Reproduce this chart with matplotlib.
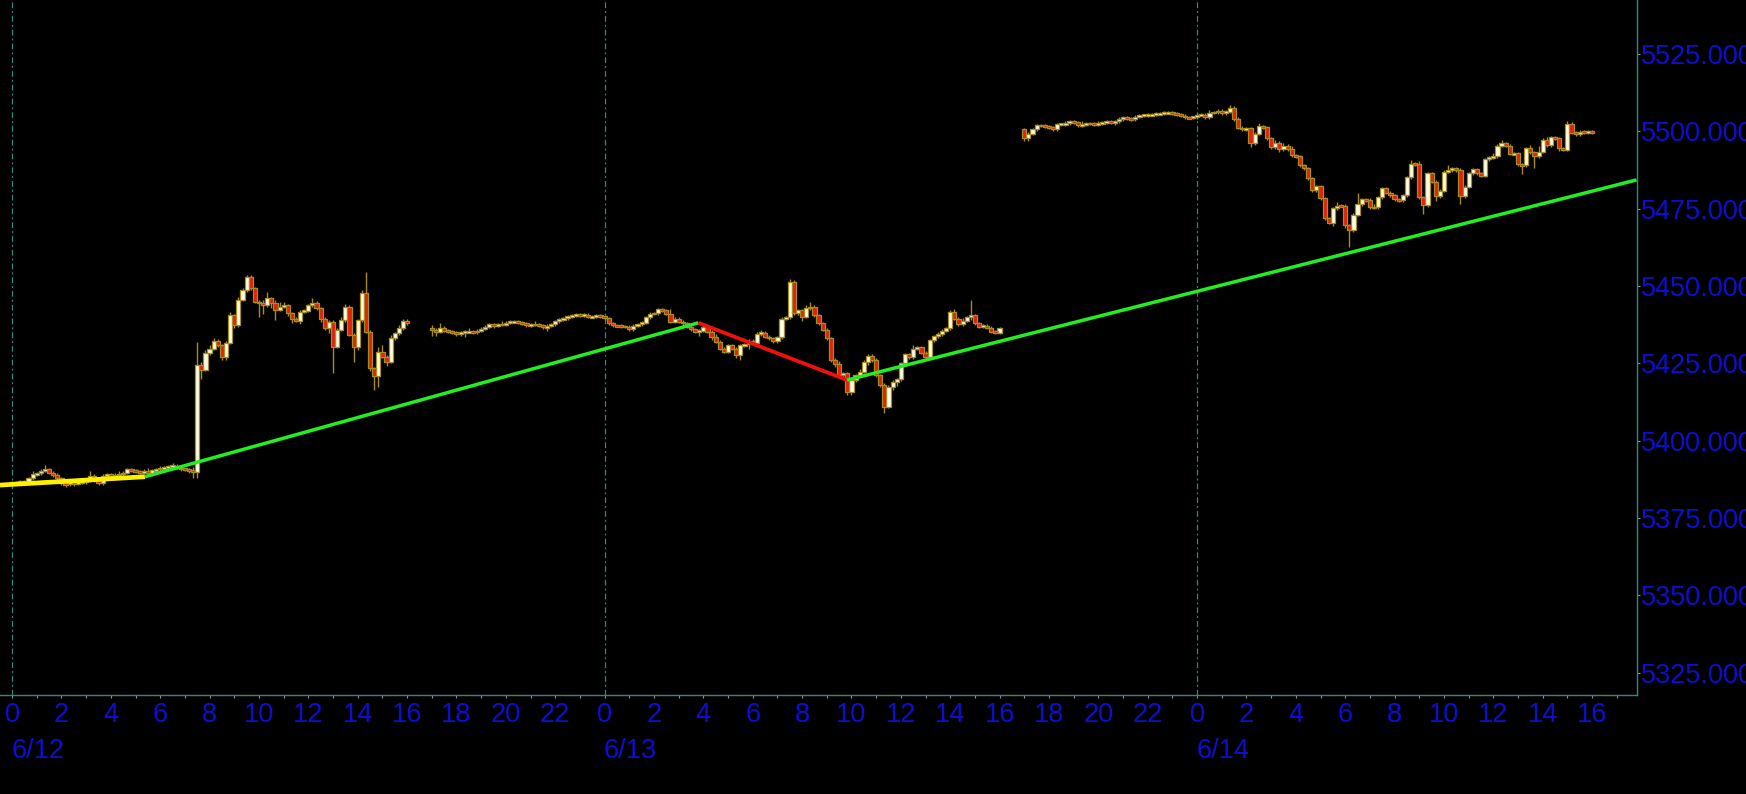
import numpy as np
import matplotlib
matplotlib.use("Agg")
import matplotlib.pyplot as plt
from matplotlib.patches import Rectangle
from matplotlib.collections import PatchCollection, LineCollection
import matplotlib.transforms as mtransforms

# ---------------- data (10-minute candles, hours since 6/12 00:00) ----------------
s1_start = 0.0
s1_open0 = 5386.2
s1_close = [
    # 0:00 - 7:20
    5386.4, 5386.5, 5386.7, 5386.9, 5387.8, 5389.1,
    5389.4, 5390.3, 5390.7, 5389.6, 5388.9, 5387.8,
    5386.2, 5386.0, 5386.4, 5386.2, 5386.6, 5386.6,
    5387.0, 5388.6, 5387.8, 5386.2, 5388.6, 5389.2,
    5388.6, 5388.9, 5389.2, 5389.6, 5390.7, 5390.5,
    5390.0, 5389.6, 5390.3, 5389.6, 5390.5, 5390.8,
    5391.2, 5391.4, 5391.6, 5391.9, 5391.2, 5390.8,
    5390.7, 5390.5, 5389.8,
    # 7:30 - 16:00
    5424.4, 5423.0, 5428.2, 5429.8, 5432.3, 5430.9, 5427.1, 5431.7, 5440.6, 5437.4,
    5445.5, 5448.7, 5453.0, 5449.2, 5444.9, 5444.4, 5443.8, 5446.0, 5444.4, 5442.4,
    5443.3, 5443.8, 5441.2, 5439.5, 5438.8, 5441.7, 5442.0, 5443.8, 5444.6, 5442.8,
    5439.5, 5436.3, 5438.5, 5430.4, 5435.8, 5439.0, 5443.3, 5434.2, 5430.4, 5439.0,
    5447.6, 5435.2, 5423.4, 5420.9, 5428.8, 5427.1, 5425.5, 5433.1, 5434.7, 5436.3,
    5438.8, 5437.9,
]
s1_up = ("111112" "113111" "111121" "231111" "112111" "111211" "111211" "112f22"
         "221112" "121111" "124123" "211111" "131111" "112211" "12e113" "412121" "1")
s1_dn = ("111111" "111112" "121211" "112111" "111111" "111121" "111111" "124461"
         "111221" "211111" "961371" "123121" "111213" "h1111a" "211297" "131111" "1")

s2_start = 17.0
s2_open0 = 5436.3
s2_close = [
    # 6/12 17:00 - 23:50
    5435.8, 5435.2, 5436.5, 5435.6, 5435.2, 5434.9, 5434.5, 5435.0, 5435.2, 5435.3,
    5435.1, 5435.5, 5436.2, 5436.8, 5437.7, 5437.3, 5437.5, 5437.6, 5438.1, 5438.4,
    5438.6, 5438.2, 5437.9, 5437.3, 5437.6, 5437.5, 5437.3, 5436.6, 5437.1, 5437.7,
    5438.6, 5439.2, 5439.6, 5440.1, 5440.5, 5440.7, 5440.6, 5440.7, 5440.1, 5440.1,
    5440.5, 5440.1,
    # 6/13 0:00 - 3:50
    5439.6, 5437.9, 5437.3, 5437.1, 5437.0, 5436.8, 5436.0, 5437.1, 5437.7, 5438.2,
    5439.9, 5441.0, 5441.2, 5442.5, 5442.2, 5441.0, 5438.5, 5439.5, 5438.5, 5437.9,
    5436.8, 5436.0, 5435.2, 5435.5,
    # 6/13 4:00 - 16:00
    5436.8, 5435.2, 5433.6, 5432.0, 5429.8, 5428.8,
    5430.9, 5429.8, 5427.7, 5430.9, 5431.2, 5432.3,
    5431.7, 5434.5, 5434.9, 5433.6, 5433.1, 5432.2,
    5433.4, 5439.5, 5439.9, 5451.4, 5441.2, 5442.2,
    5440.1, 5442.8, 5443.3, 5440.6, 5437.9, 5435.8,
    5433.1, 5426.1, 5424.8, 5421.2, 5421.8, 5415.8,
    5419.6, 5421.2, 5422.3, 5425.5, 5427.4, 5426.1,
    5421.2, 5418.0, 5411.0, 5417.4, 5419.1, 5419.8,
    5425.0, 5428.0, 5427.0, 5429.8, 5430.2, 5428.5,
    5427.0, 5432.5, 5433.8, 5434.5, 5435.6, 5436.3,
    5441.7, 5439.5, 5437.7, 5438.8, 5439.9, 5440.6,
    5437.9, 5436.8, 5437.1, 5436.5, 5435.2, 5434.9,
    5436.3,
]
s2_up = ("213111" "111211" "111112" "111111" "121111" "111111" "111111"
         "111111" "111111" "111131" "111111"
         "111211" "111111" "112111" "111211" "123111" "111211" "112111" "111111"
         "111211" "111111" "12121a" "111111" "1")
s2_dn = ("431111" "113111" "111211" "111111" "111121" "111111" "111111"
         "111111" "111111" "111111" "121113"
         "112111" "112313" "111111" "111111" "311111" "112122" "211121" "114123"
         "111111" "111111" "111112" "111111" "1")

s3_start = 41.0
s3_open0 = 5500.6
s3_close = [
    # 6/13 17:00 - 23:50
    5497.8, 5499.3, 5500.6, 5502.0, 5501.8, 5501.5, 5501.3, 5500.6, 5502.3, 5502.3,
    5502.7, 5503.1, 5502.9, 5502.0, 5502.3, 5502.6, 5502.5, 5502.3, 5502.7, 5502.9,
    5503.1, 5502.9, 5503.3, 5504.0, 5504.4, 5504.2, 5504.0, 5504.7, 5505.1, 5505.2,
    5505.3, 5505.5, 5505.7, 5505.7, 5506.0, 5506.1, 5505.8, 5505.5, 5505.1, 5504.5,
    5504.4, 5504.6,
    # 6/14 0:00 - 2:00
    5505.3, 5505.3, 5504.6, 5506.0, 5506.2, 5506.6, 5505.9, 5506.4, 5507.6, 5504.0,
    5501.2, 5500.6, 5501.0,
    # 6/14 2:10 - 16:00
    5496.1, 5499.3, 5501.7, 5501.3, 5497.7, 5494.8, 5496.3, 5494.2, 5495.3, 5494.2,
    5492.3, 5492.0, 5489.1, 5488.0, 5484.8, 5481.0, 5482.3, 5478.3, 5471.9, 5470.5,
    5475.1, 5476.0, 5475.9, 5469.7, 5468.1, 5473.0, 5476.5, 5478.0, 5477.8, 5475.4,
    5475.4, 5478.7, 5481.6, 5480.2, 5479.4, 5478.0, 5477.8, 5479.4, 5485.1, 5489.6,
    5489.4, 5478.7, 5476.2, 5486.4, 5483.7, 5479.1, 5480.8, 5487.0, 5487.5, 5487.9,
    5487.5, 5479.1, 5482.1, 5486.4, 5487.8, 5486.4, 5485.6, 5491.0, 5491.5, 5492.0,
    5495.3, 5496.1, 5495.3, 5492.7, 5492.9, 5489.4, 5489.1, 5494.5, 5493.3, 5492.0,
    5493.4, 5497.2, 5495.6, 5498.1, 5497.7, 5494.5, 5494.0, 5502.4, 5499.6, 5499.1,
    5499.9, 5499.8, 5499.9, 5499.7,
]
s3_up = ("111111" "111111" "112111" "111111" "111111" "111111" "111111"
         "111211" "112111" "111211" "121212" "111111" "111121" "111711" "121111"
         "111121" "211111" "131111" "111111" "212111" "111214" "121111" "211111" "1")
s3_dn = ("221111" "111111" "111111" "111121" "111111" "111111" "111111"
         "111111" "111111" "121111" "112111" "111111" "111211" "2b1111" "111111"
         "111111" "161131" "111151" "111111" "111111" "161181" "111121" "111111" "1")

# trend lines (hours, price)
trend_yellow_x = [-0.49, 5.38]
trend_yellow_y = [5385.65, 5388.35]
trend_green1_x = [5.38, 27.8]
trend_green1_y = [5388.35, 5438.1]
trend_red_x = [27.8, 33.82]
trend_red_y = [5438.1, 5419.6]
trend_green2_x = [33.82, 65.8]
trend_green2_y = [5419.6, 5484.3]

day_starts = [0, 24, 48]
day_labels = ["6/12", "6/13", "6/14"]
y_ticks = [5325, 5350, 5375, 5400, 5425, 5450, 5475, 5500, 5525]
x_major = list(range(0, 65, 2))

# ---------------- styling ----------------
BLUE = "#0E0ED0"
TEAL = "#2E8B84"
UP_FILL = "#FFFFE6"
DN_FILL = "#E2200C"
EDGE = "#A68C22"
FS = 19.5
plt.rcParams["font.family"] = ["Liberation Sans", "DejaVu Sans"]

fig = plt.figure(figsize=(17.46, 7.94), dpi=100, facecolor="black")
ax = fig.add_axes([0.0, 0.1253, 0.9373, 0.8747])
ax.set_facecolor("black")

def wick_vals(s):
    return np.array([int(ch, 36) * 0.5 for ch in s])

W = 0.17
MINH = 0.6
rects_up, rects_dn, wicks = [], [], []
for start, o0, closes, ups, dns in [
    (s1_start, s1_open0, s1_close, s1_up, s1_dn),
    (s2_start, s2_open0, s2_close, s2_up, s2_dn),
    (s3_start, s3_open0, s3_close, s3_up, s3_dn),
]:
    c = np.array(closes, dtype=float)
    o = np.concatenate([[o0], c[:-1]])
    n = len(c)
    t = start + np.arange(n) / 6.0
    hi = np.maximum(o, c) + wick_vals(ups)[:n]
    lo = np.minimum(o, c) - wick_vals(dns)[:n]
    for i in range(n):
        wicks.append([(t[i], lo[i]), (t[i], hi[i])])
        h = max(abs(c[i] - o[i]), MINH)
        mid = (o[i] + c[i]) / 2.0
        r = Rectangle((t[i] - W / 2, mid - h / 2), W, h)
        (rects_up if c[i] >= o[i] else rects_dn).append(r)

ax.add_collection(LineCollection(wicks, colors=EDGE, linewidths=1.0, zorder=2))
ax.add_collection(PatchCollection(rects_up, facecolor=UP_FILL, edgecolor=EDGE,
                                  linewidth=0.9, zorder=3))
ax.add_collection(PatchCollection(rects_dn, facecolor=DN_FILL, edgecolor=EDGE,
                                  linewidth=0.9, zorder=3))

ax.plot(trend_yellow_x, trend_yellow_y, color="#FFF000", lw=3.4, zorder=4,
        solid_capstyle="butt")
ax.plot(trend_green1_x, trend_green1_y, color="#22EE22", lw=2.5, zorder=4,
        solid_capstyle="butt")
ax.plot(trend_red_x, trend_red_y, color="#F01010", lw=2.7, zorder=4,
        solid_capstyle="butt")
ax.plot(trend_green2_x, trend_green2_y, color="#22EE22", lw=2.5, zorder=4,
        solid_capstyle="butt")

for d in day_starts:
    ax.axvline(d, color=TEAL, lw=0.9, ls=(0, (4.5, 2.5, 1.5, 2.5)), zorder=1)

ax.set_xlim(-0.49, 65.8)
ax.set_ylim(5317.95, 5542.46)

ax.yaxis.tick_right()
ax.set_yticks(y_ticks)
ax.set_yticklabels([f"{v:.3f}" for v in y_ticks])
ax.set_xticks(x_major)
ax.set_xticklabels([str(h % 24) for h in x_major])
ax.set_xticks(list(range(0, 66)), minor=True)

ax.tick_params(axis="y", which="both", colors="#7A9A9A", labelcolor=BLUE,
               length=2.5, width=0.8, pad=0.8, labelsize=FS)
ax.tick_params(axis="x", which="both", colors="#7A9A9A", labelcolor=BLUE,
               length=2.5, width=0.8, pad=3.0, labelsize=FS)

for side in ["top", "left"]:
    ax.spines[side].set_visible(False)
for side in ["right", "bottom"]:
    ax.spines[side].set_color(TEAL)
    ax.spines[side].set_linewidth(1.0)

trans = mtransforms.blended_transform_factory(ax.transData, ax.transAxes)
for d, lab in zip(day_starts, day_labels):
    ax.text(d - 0.03, -0.0814, lab, transform=trans, ha="left", va="center",
            color=BLUE, fontsize=FS, clip_on=False)

fig.savefig("out.png", dpi=100, facecolor="black")
